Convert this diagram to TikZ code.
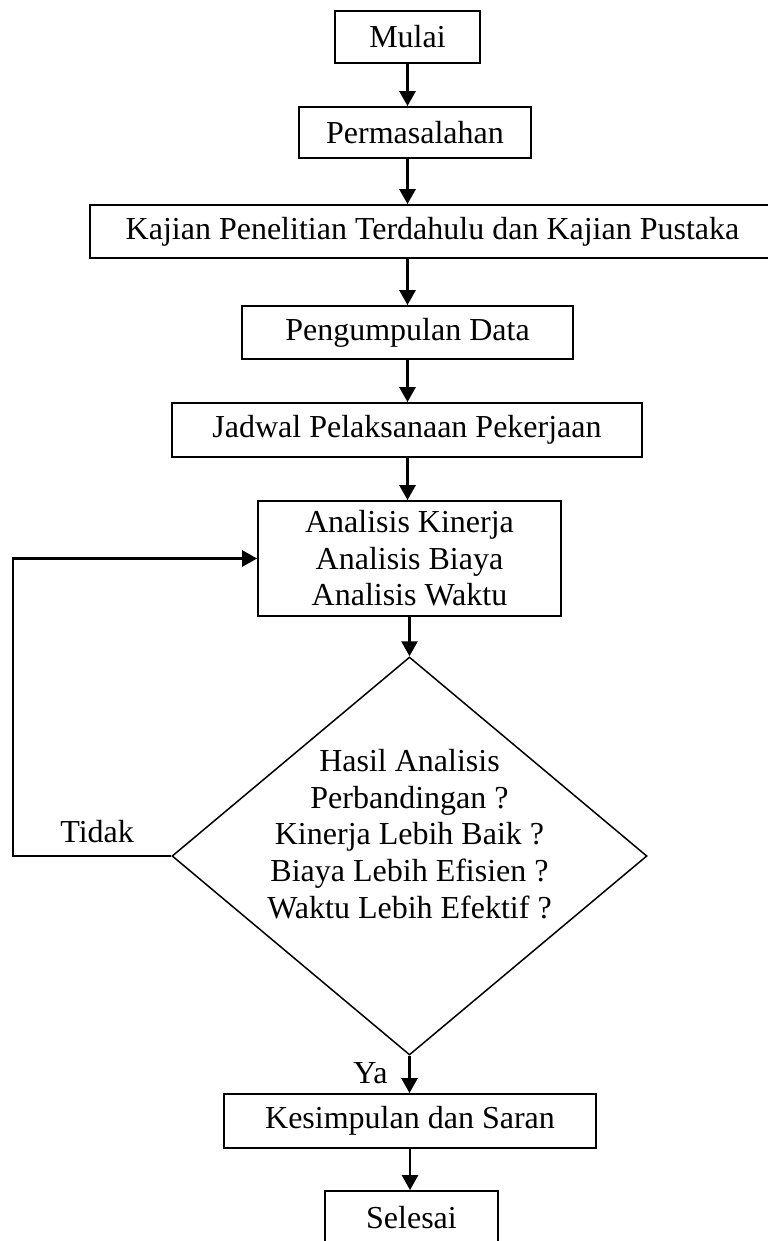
\documentclass[tikz,border=0pt]{standalone}
\usepackage{fontspec}
\setmainfont{Liberation Serif}
\usetikzlibrary{arrows.meta,shapes.geometric}
\begin{document}
\begin{tikzpicture}[x=0.5pt,y=-0.5pt,
  box/.style={draw, line width=0.9pt, inner sep=0pt, align=center, font=\fontsize{16}{18.3}\selectfont},
  arr/.style={line width=1.4pt, -{Triangle[length=7.5pt,width=8pt]}},
  lbl/.style={inner sep=0pt, font=\fontsize{16}{18.3}\selectfont}]
\useasboundingbox (0,0) rectangle (767,1241);
\node[box, minimum width=72.5pt, minimum height=26pt] (mulai) at (407.5,37) {Mulai};
\node[box, minimum width=116pt, minimum height=25.5pt] (perm) at (415,132.5) {Permasalahan};
\node[box, minimum width=342.5pt, minimum height=26.5pt] (kaj) at (432.5,231.5) {Kajian Penelitian Terdahulu dan Kajian Pustaka};
\node[box, minimum width=165.5pt, minimum height=26.5pt] (peng) at (407.5,332.5) {Pengumpulan Data};
\node[box, minimum width=235pt, minimum height=27pt] (jad) at (407,430) {Jadwal Pelaksanaan Pekerjaan};
\node[box, minimum width=151.5pt, minimum height=57.5pt] (ana) at (409.5,558.5) {Analisis Kinerja\\Analisis Biaya\\Analisis Waktu};
\node[draw, diamond, line width=0.75pt, inner sep=0pt, minimum width=237.5pt, minimum height=199pt] (dec) at (409.5,856) {};
\node[lbl, align=center] (dtxt) at (409.5,834) {Hasil Analisis\\Perbandingan ?\\Kinerja Lebih Baik ?\\Biaya Lebih Efisien ?\\Waktu Lebih Efektif ?};
\node[box, minimum width=186pt, minimum height=27pt] (kes) at (410,1121) {Kesimpulan dan Saran};
\node[box, minimum width=86.5pt, minimum height=27pt] (sel) at (411.5,1218) {Selesai};
\node[lbl, anchor=base west] (tidak) at (60,842) {Tidak};
\node[lbl, anchor=base west] (ya) at (353,1083) {Ya};
\coordinate (lp) at (13,0);
\draw[arr] (mulai.south) -- (mulai.south |- perm.north);
\draw[arr] (mulai.south |- perm.south) -- (mulai.south |- kaj.north);
\draw[arr] (mulai.south |- kaj.south) -- (mulai.south |- peng.north);
\draw[arr] (peng.south) -- (peng.south |- jad.north);
\draw[arr] (peng.south |- jad.south) -- (peng.south |- ana.north);
\draw[arr] (ana.south) -- (dec.north);
\draw[arr] (dec.south) -- (dec.south |- kes.north);
\draw[arr] (kes.south) -- (kes.south |- sel.north);
\draw[arr] (dec.west) -- (dec.west -| lp) |- (ana.west);
\end{tikzpicture}
\end{document}
